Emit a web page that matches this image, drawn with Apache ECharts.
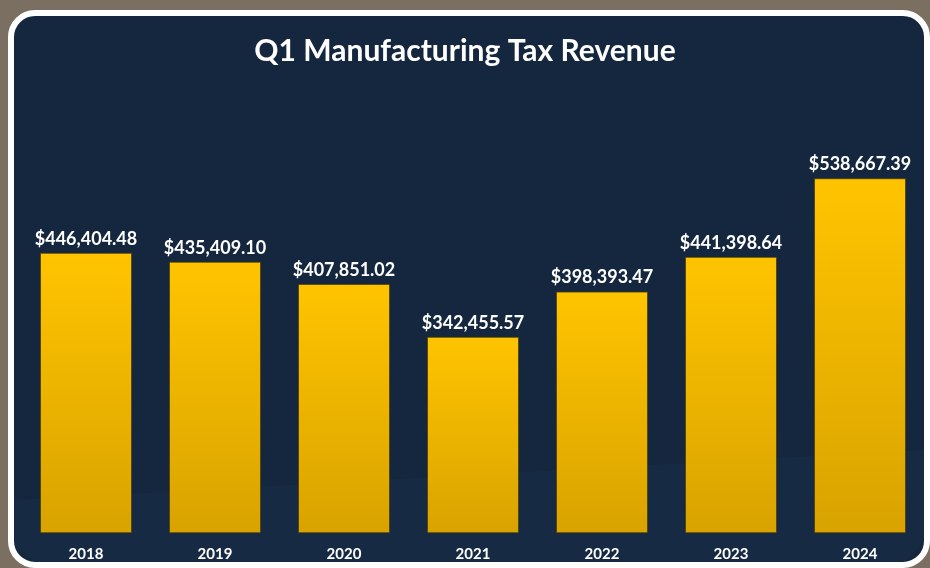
<!DOCTYPE html>
<html>
<head>
<meta charset="utf-8">
<script src="https://cdn.jsdelivr.net/npm/echarts@6/dist/echarts.min.js"></script>
<style>
  html, body { margin: 0; padding: 0; background: #7a6f60; }
  #chart { width: 930px; height: 568px; }
</style>
</head>
<body>
<div id="chart"></div>
<script>
// Quarterly (Q1) manufacturing tax revenue by year
const years = ['2018', '2019', '2020', '2021', '2022', '2023', '2024'];
const revenue = [446404.48, 435409.10, 407851.02, 342455.57, 398393.47, 441398.64, 538667.39];
const valueAxisMin = 100000;
const valueAxisMax = 600000;

const fmtMoney = v => '$' + v.toLocaleString('en-US', { minimumFractionDigits: 2, maximumFractionDigits: 2 });

const chart = echarts.init(document.getElementById('chart'), null, { renderer: 'canvas' });

chart.setOption({
  backgroundColor: '#7a6f60',
  animation: false,
  graphic: [
    {
      // navy card with white rounded frame
      type: 'rect',
      z: -10,
      shape: { x: 11, y: 13, width: 916, height: 552, r: 24 },
      style: { fill: '#15273f', stroke: '#ffffff', lineWidth: 6 }
    },
    {
      // faint floor shading behind the bars
      type: 'polygon',
      z: -9,
      shape: { points: [[15, 500], [924, 450], [924, 540], [905, 562], [35, 562], [15, 545]] },
      style: { fill: 'rgba(40,70,110,0.1)' }
    }
  ],
  title: {
    text: 'Q1 Manufacturing Tax Revenue',
    left: 'center',
    top: 31,
    textStyle: {
      color: '#ffffff',
      fontFamily: 'Lato',
      fontWeight: 'bold',
      fontSize: 30
    }
  },
  grid: { left: 21.5, right: 5.5, top: 128.7, bottom: 35.3 },
  xAxis: {
    type: 'category',
    data: years,
    axisLine: { show: false },
    axisTick: { show: false },
    axisLabel: {
      color: '#ffffff',
      fontFamily: 'Lato',
      fontWeight: 'bold',
      fontSize: 15,
      margin: 14
    }
  },
  yAxis: {
    type: 'value',
    min: valueAxisMin,
    max: valueAxisMax,
    show: false,
    splitLine: { show: false }
  },
  series: [
    {
      type: 'bar',
      data: revenue,
      barWidth: 92,
      itemStyle: {
        color: new echarts.graphic.LinearGradient(0, 0, 0, 1, [
          { offset: 0, color: '#ffc400' },
          { offset: 1, color: '#d9a300' }
        ]),
        borderColor: 'rgba(70,55,10,0.7)',
        borderWidth: 1
      },
      label: {
        show: true,
        position: 'top',
        distance: 5,
        color: '#ffffff',
        fontFamily: 'Lato',
        fontWeight: 'bold',
        fontSize: 18,
        formatter: p => fmtMoney(p.value)
      }
    }
  ]
});
</script>
</body>
</html>
